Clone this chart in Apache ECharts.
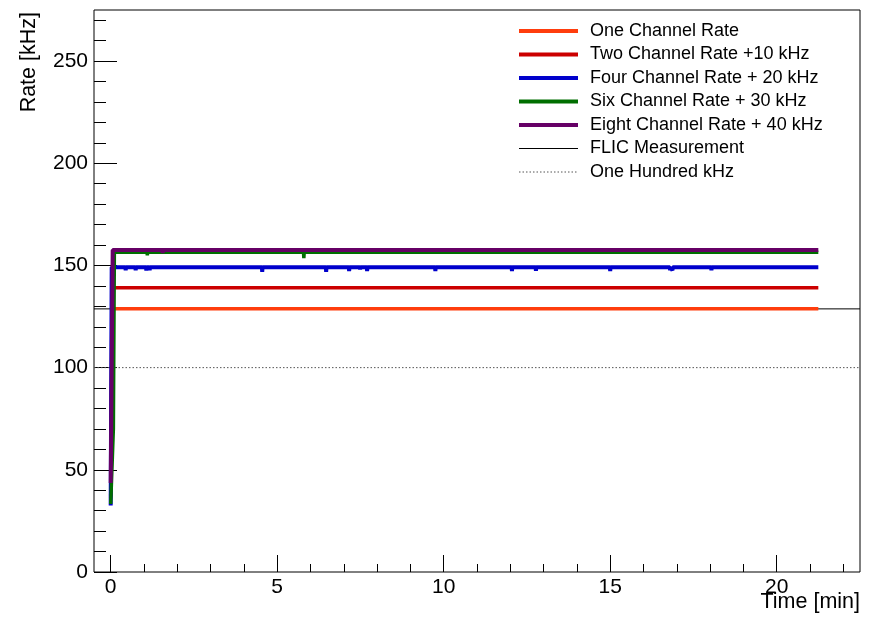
<!DOCTYPE html>
<html><head><meta charset="utf-8">
<script src="https://cdn.jsdelivr.net/npm/echarts@6/dist/echarts.min.js"></script>
<style>html,body{margin:0;padding:0;background:#fff}#c{width:874px;height:619px}</style>
</head><body><div id="c"></div>
<script>
// ---- data (time in minutes, rate in kHz) ----
const seriesNames = ['One Channel Rate', 'Two Channel Rate +10 kHz', 'Four Channel Rate + 20 kHz',
  'Six Channel Rate + 30 kHz', 'Eight Channel Rate + 40 kHz'];
const refNames = ['FLIC Measurement', 'One Hundred kHz'];
const xTickValues = [0, 5, 10, 15, 20];
const yTickValues = [0, 50, 100, 150, 200, 250];
const flicMeasurement = 128.75;
const oneHundredKHz = 100;

const oneChannelRate = [[0, 36], [0.05, 128.8], [21.25, 128.8]];

const twoChannelRate = [[0, 37], [0.05, 139.1],
  [0.41, 139.1], [0.42, 138.2], [0.43, 139.1],
  [1.44, 139.1], [1.45, 138.4], [1.46, 139.1],
  [1.95, 139.1], [1.96, 138.4], [1.97, 139.1],
  [3.64, 139.1], [3.65, 138.5], [3.66, 139.1],
  [4.54, 139.1], [4.55, 138.3], [4.56, 139.1],
  [21.25, 139.1]];

const fourChannelRate = [[0, 32.5], [0.03, 149.1],
  [0.44, 149.1], [0.45, 147.6], [0.46, 149.1],
  [0.74, 149.1], [0.75, 147.6], [0.76, 149.1],
  [1.06, 149.1], [1.07, 147.5], [1.08, 149.1],
  [1.16, 149.1], [1.17, 147.6], [1.18, 149.1],
  [4.54, 149.1], [4.55, 146.9], [4.56, 149.1],
  [6.46, 149.1], [6.47, 146.9], [6.48, 149.1],
  [7.15, 149.1], [7.16, 147.3], [7.17, 149.1],
  [7.48, 149.1], [7.49, 148.1], [7.50, 149.1],
  [7.69, 149.1], [7.70, 147.3], [7.71, 149.1],
  [9.27, 149.1], [9.28, 148.3], [9.29, 149.1],
  [9.74, 149.1], [9.75, 147.3], [9.76, 149.1],
  [12.04, 149.1], [12.05, 147.3], [12.06, 149.1],
  [12.76, 149.1], [12.77, 147.4], [12.78, 149.1],
  [14.99, 149.1], [15.00, 147.3], [15.01, 149.1],
  [15.52, 149.1], [15.53, 148.3], [15.54, 149.1],
  [16.79, 149.1], [16.80, 147.6], [16.81, 149.1],
  [16.86, 149.1], [16.87, 147.6], [16.88, 149.1],
  [18.03, 149.1], [18.04, 147.6], [18.05, 149.1],
  [21.25, 149.1]];

const sixChannelRate = [[0, 33.3], [0.08, 70], [0.11, 156.5],
  [1.09, 156.5], [1.10, 155.0], [1.11, 156.5],
  [5.79, 156.5], [5.80, 153.6], [5.81, 156.5],
  [21.25, 156.5]];

const eightChannelRate = [[0, 43.5], [0.06, 157.6],
  [0.36, 157.6], [0.37, 158.4], [0.38, 157.6],
  [0.92, 157.6], [0.93, 158.3], [0.94, 157.6],
  [1.26, 157.6], [1.27, 158.4], [1.28, 157.6],
  [1.55, 157.6], [1.56, 156.1], [1.57, 157.6],
  [1.86, 157.6], [1.87, 158.4], [1.88, 157.6],
  [2.42, 157.6], [2.43, 158.3], [2.44, 157.6],
  [2.88, 157.6], [2.89, 158.4], [2.90, 157.6],
  [2.97, 157.6], [2.98, 158.3], [2.99, 157.6],
  [3.57, 157.6], [3.58, 158.4], [3.59, 157.6],
  [4.38, 157.6], [4.39, 158.3], [4.40, 157.6],
  [5.01, 157.6], [5.02, 158.4], [5.03, 157.6],
  [5.31, 157.6], [5.32, 158.3], [5.33, 157.6],
  [5.97, 157.6], [5.98, 158.4], [5.99, 157.6],
  [6.72, 157.6], [6.73, 158.3], [6.74, 157.6],
  [7.08, 157.6], [7.09, 158.4], [7.10, 157.6],
  [7.72, 157.6], [7.73, 158.3], [7.74, 157.6],
  [8.47, 157.6], [8.48, 158.4], [8.49, 157.6],
  [9.13, 157.6], [9.14, 158.3], [9.15, 157.6],
  [9.88, 157.6], [9.89, 158.4], [9.90, 157.6],
  [10.69, 157.6], [10.70, 158.3], [10.71, 157.6],
  [13.49, 157.6], [13.50, 158.4], [13.51, 157.6],
  [14.54, 157.6], [14.55, 158.3], [14.56, 157.6],
  [14.99, 157.6], [15.00, 158.4], [15.01, 157.6],
  [16.39, 157.6], [16.40, 158.3], [16.41, 157.6],
  [17.89, 157.6], [17.90, 158.4], [17.91, 157.6],
  [18.49, 157.6], [18.50, 158.3], [18.51, 157.6],
  [19.79, 157.6], [19.80, 158.4], [19.81, 157.6],
  [20.39, 157.6], [20.40, 158.3], [20.41, 157.6],
  [21.04, 157.6], [21.05, 158.4], [21.06, 157.6],
  [21.25, 157.6]];

const seriesData = [oneChannelRate, twoChannelRate, fourChannelRate, sixChannelRate, eightChannelRate];
const seriesColors = ['#ff3d0d', '#cc0000', '#0000cc', '#006e00', '#660066'];
const seriesWidths = [3.5, 3.5, 4, 3.5, 4];

// ---- chart ----
const FONT = 'Liberation Sans, Arial, Helvetica, sans-serif';
const chart = echarts.init(document.getElementById('c'), null, {renderer: 'canvas'});

const frameX = [-0.5, 22.5];
const series = [
  {name: refNames[0], type: 'line', xAxisIndex: 0, yAxisIndex: 0, symbol: 'none', silent: true,
   data: [[frameX[0], flicMeasurement], [frameX[1], flicMeasurement]],
   lineStyle: {color: '#000', width: 1}, itemStyle: {color: '#000'}},
  {name: refNames[1], type: 'line', xAxisIndex: 0, yAxisIndex: 0, symbol: 'none', silent: true,
   data: [[frameX[0], oneHundredKHz], [frameX[1], oneHundredKHz]],
   lineStyle: {color: '#555', width: 1, type: [1.5, 2]}, itemStyle: {color: '#555'}}
];
seriesNames.forEach((n, i) => {
  series.push({name: n, type: 'line', xAxisIndex: 1, yAxisIndex: 1, symbol: 'none', silent: true,
    data: seriesData[i], lineStyle: {color: seriesColors[i], width: seriesWidths[i]},
    itemStyle: {color: seriesColors[i]}});
});

const legendData = [
  ...seriesNames.map((n, i) => ({name: n, lineStyle: {width: 4, color: seriesColors[i]}})),
  {name: refNames[0], lineStyle: {width: 1, color: '#000'}},
  {name: refNames[1], lineStyle: {width: 1, color: '#555', type: [1.5, 2]}}
];

const hidden = {axisLine: {show: false}, axisTick: {show: false}, axisLabel: {show: false}, splitLine: {show: false}};

const option = {
  animation: false,
  backgroundColor: '#fff',
  textStyle: {fontFamily: FONT},
  grid: [
    {left: 94, right: 14, top: 10, bottom: 47, show: true, borderColor: '#000', borderWidth: 1,
     backgroundColor: 'transparent', containLabel: false, outerBoundsMode: 'none'},
    {left: 110.7, width: 832.5, top: -41.1, bottom: 47, containLabel: false, outerBoundsMode: 'none'},
    {left: 94, right: 14, top: -41.1, bottom: 47, containLabel: false, outerBoundsMode: 'none'}
  ],
  xAxis: [
    Object.assign({type: 'value', gridIndex: 0, min: frameX[0], max: frameX[1],
     name: 'Time [min]', nameLocation: 'end', nameGap: 0, nameMoveOverlap: false,
     nameTextStyle: {fontSize: 21.5, fontFamily: FONT, color: '#000', align: 'right', verticalAlign: 'top', padding: [19, 0, 0, 0]}}, hidden),
    {type: 'value', gridIndex: 1, min: 0, max: 25, interval: 5,
     axisLine: {show: false},
     axisTick: {show: true, inside: true, length: 17, lineStyle: {color: '#000', width: 1}},
     minorTick: {show: true, splitNumber: 5, length: 8, lineStyle: {color: '#000', width: 1}},
     axisLabel: {show: true, margin: 5, fontSize: 21, fontFamily: FONT, color: '#000',
       formatter: v => xTickValues.includes(v) ? String(v) : ''},
     splitLine: {show: false}, minorSplitLine: {show: false}},
    Object.assign({type: 'value', gridIndex: 2, min: 0, max: 1, show: false}, hidden)
  ],
  yAxis: [
    Object.assign({type: 'value', gridIndex: 0, min: 0, max: 275,
     name: 'Rate [kHz]', nameLocation: 'end', nameRotate: 90, nameGap: -2, nameMoveOverlap: false,
     nameTextStyle: {fontSize: 21.5, fontFamily: FONT, color: '#000', align: 'right', verticalAlign: 'bottom', padding: [0, 0, 71, 0]}}, hidden),
    Object.assign({type: 'value', gridIndex: 1, min: 0, max: 300, show: false}, hidden),
    {type: 'value', gridIndex: 2, min: 0, max: 300, interval: 50,
     axisLine: {show: false},
     axisTick: {show: true, inside: true, length: 23, lineStyle: {color: '#000', width: 1}},
     minorTick: {show: true, splitNumber: 5, length: 12, lineStyle: {color: '#000', width: 1}},
     axisLabel: {show: true, margin: 6, fontSize: 21, fontFamily: FONT, color: '#000',
       formatter: v => yTickValues.includes(v) ? String(v) : ''},
     splitLine: {show: false}, minorSplitLine: {show: false}}
  ],
  legend: {
    orient: 'vertical', left: 512, top: 17, itemWidth: 59, itemHeight: 14, itemGap: 5.5,
    selectedMode: false,
    data: legendData,
    textStyle: {fontSize: 18, fontFamily: FONT, color: '#000', padding: [0, 0, 0, 7]},
    itemStyle: {color: 'rgba(0,0,0,0)', borderWidth: 0}
  },
  graphic: [
    {type: 'rect', shape: {x: 90, y: 0, width: 30, height: 8}, style: {fill: '#fff'}, z: 100, silent: true}
  ],
  series: series
};
chart.setOption(option);
</script>
</body></html>
